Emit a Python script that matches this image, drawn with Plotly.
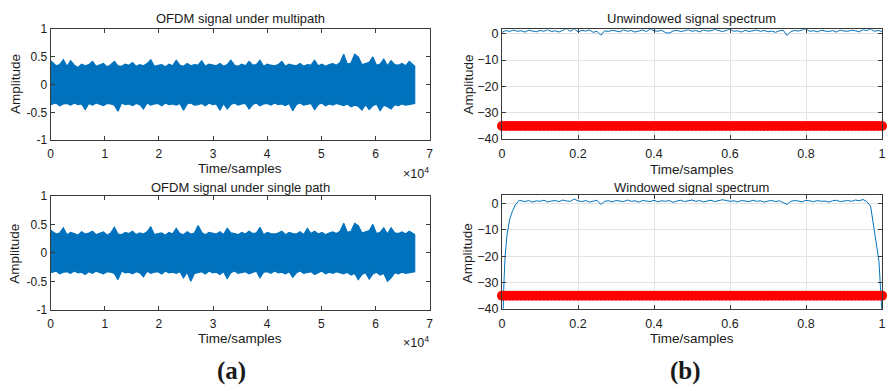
import numpy as np
import plotly.graph_objects as go

W, H = 889, 391

# ---------------- data ----------------
n_samples = 67250
# envelope of the OFDM signal under multipath (upper / lower peaks, 100 segments)
mp_upper = [0.43,0.34,0.36,0.45,0.33,0.43,0.35,0.31,0.37,0.34,
            0.36,0.42,0.33,0.35,0.38,0.32,0.36,0.42,0.34,0.33,
            0.37,0.35,0.40,0.33,0.36,0.34,0.38,0.45,0.33,0.35,
            0.36,0.32,0.37,0.34,0.44,0.35,0.33,0.38,0.34,0.36,
            0.35,0.43,0.33,0.37,0.35,0.34,0.38,0.33,0.36,0.44,
            0.35,0.33,0.37,0.34,0.42,0.35,0.36,0.44,0.33,0.37,
            0.35,0.34,0.36,0.42,0.33,0.37,0.35,0.34,0.38,0.33,
            0.36,0.35,0.44,0.34,0.37,0.33,0.36,0.38,0.35,0.40,
            0.55,0.37,0.39,0.55,0.50,0.36,0.38,0.40,0.50,0.35,
            0.37,0.46,0.34,0.43,0.36,0.35,0.38,0.34,0.42,0.33]
mp_lower = [-0.36,-0.33,-0.38,-0.35,-0.34,-0.37,-0.33,-0.36,-0.35,-0.45,
            -0.34,-0.37,-0.33,-0.36,-0.38,-0.34,-0.35,-0.37,-0.48,-0.33,
            -0.36,-0.35,-0.38,-0.34,-0.36,-0.44,-0.33,-0.37,-0.35,-0.34,
            -0.38,-0.33,-0.36,-0.35,-0.37,-0.34,-0.46,-0.35,-0.33,-0.37,
            -0.36,-0.34,-0.38,-0.33,-0.36,-0.35,-0.46,-0.34,-0.44,-0.36,
            -0.33,-0.37,-0.35,-0.34,-0.44,-0.36,-0.33,-0.38,-0.35,-0.34,
            -0.37,-0.33,-0.36,-0.35,-0.38,-0.34,-0.47,-0.36,-0.33,-0.37,
            -0.35,-0.34,-0.45,-0.36,-0.33,-0.38,-0.35,-0.37,-0.34,-0.36,
            -0.38,-0.35,-0.40,-0.37,-0.39,-0.46,-0.36,-0.45,-0.38,-0.35,
            -0.47,-0.37,-0.40,-0.44,-0.36,-0.38,-0.35,-0.37,-0.36,-0.34]
# envelope of the OFDM signal under single path
sp_upper = [0.40,0.33,0.35,0.44,0.32,0.36,0.34,0.31,0.37,0.33,
            0.35,0.38,0.32,0.34,0.37,0.31,0.35,0.45,0.33,0.32,
            0.36,0.34,0.38,0.32,0.35,0.33,0.37,0.46,0.32,0.34,
            0.35,0.31,0.36,0.33,0.43,0.34,0.32,0.37,0.33,0.35,
            0.48,0.36,0.32,0.36,0.34,0.33,0.37,0.32,0.43,0.35,
            0.34,0.32,0.36,0.33,0.38,0.34,0.35,0.45,0.32,0.36,
            0.34,0.33,0.35,0.38,0.32,0.36,0.34,0.33,0.37,0.32,
            0.43,0.34,0.38,0.33,0.36,0.32,0.35,0.37,0.34,0.38,
            0.52,0.36,0.38,0.52,0.48,0.35,0.37,0.39,0.50,0.34,
            0.36,0.44,0.33,0.44,0.35,0.34,0.37,0.33,0.38,0.32]
sp_lower = [-0.35,-0.32,-0.37,-0.34,-0.33,-0.36,-0.32,-0.35,-0.34,-0.38,
            -0.33,-0.36,-0.32,-0.35,-0.37,-0.33,-0.34,-0.36,-0.47,-0.32,
            -0.35,-0.34,-0.37,-0.33,-0.35,-0.42,-0.32,-0.36,-0.34,-0.33,
            -0.37,-0.32,-0.35,-0.34,-0.36,-0.33,-0.44,-0.34,-0.50,-0.36,
            -0.35,-0.33,-0.37,-0.32,-0.35,-0.34,-0.38,-0.33,-0.45,-0.35,
            -0.32,-0.36,-0.34,-0.33,-0.37,-0.35,-0.32,-0.44,-0.34,-0.33,
            -0.36,-0.32,-0.35,-0.34,-0.37,-0.33,-0.43,-0.35,-0.32,-0.36,
            -0.34,-0.33,-0.38,-0.35,-0.32,-0.37,-0.34,-0.36,-0.33,-0.35,
            -0.37,-0.34,-0.39,-0.36,-0.47,-0.38,-0.35,-0.46,-0.37,-0.34,
            -0.39,-0.36,-0.50,-0.44,-0.35,-0.37,-0.34,-0.36,-0.35,-0.33]

# unwindowed spectrum (dB)
unwin_db = [0.5,1.2,0.8,1.4,0.9,1.1,0.6,1.3,1.0,0.7,
            1.2,0.9,1.5,0.8,1.1,0.6,1.3,1.9,0.9,1.8,
            0.7,1.2,1.0,1.4,0.5,0.9,-0.6,1.1,0.8,1.3,
            1.0,0.7,1.5,0.9,1.2,0.6,1.0,1.4,0.8,1.7,
            1.1,0.9,1.3,0.4,0.2,1.0,1.3,0.8,1.1,1.5,
            0.9,1.2,0.7,1.4,1.0,1.1,1.6,1.3,0.8,1.2,
            1.7,0.9,1.1,0.6,1.3,0.8,1.0,1.4,0.9,1.2,
            0.7,1.0,0.5,1.1,1.3,-0.7,0.8,1.2,1.0,1.4,
            1.8,0.9,1.1,0.7,1.3,1.0,0.8,1.2,0.6,1.4,
            1.0,0.9,1.3,1.1,0.7,1.5,1.2,1.8,0.9,1.2,0.8]
# windowed spectrum (dB): x positions and values
win_x = [0.0,0.003,0.005,0.008,0.013,0.02,0.027,0.035,0.045,
         0.06,0.07,0.08,0.09,0.10,0.11,0.12,0.13,0.14,0.15,0.16,0.17,0.18,0.19,
         0.20,0.21,0.22,0.23,0.24,0.25,0.26,0.27,0.28,0.29,0.30,0.31,0.32,0.33,
         0.34,0.35,0.36,0.37,0.38,0.39,0.40,0.41,0.42,0.43,0.44,0.45,0.46,0.47,
         0.48,0.49,0.50,0.51,0.52,0.53,0.54,0.55,0.56,0.57,0.58,0.59,0.60,0.61,
         0.62,0.63,0.64,0.65,0.66,0.67,0.68,0.69,0.70,0.71,0.72,0.73,0.74,0.75,
         0.76,0.77,0.78,0.79,0.80,0.81,0.82,0.83,0.84,0.85,0.86,0.87,0.88,0.89,
         0.90,0.91,0.92,0.93,0.94,0.95,0.96,0.97,0.979,0.986,0.992,0.996,1.0]
win_db = [-42,-40,-30,-20,-12,-6,-3,-0.5,1.3,
          0.8,1.2,0.6,1.1,0.9,1.3,0.7,1.0,1.2,0.8,1.4,1.0,0.9,1.8,
          1.1,0.8,1.2,0.6,1.0,1.3,-0.3,0.9,1.1,0.7,1.2,1.0,0.8,1.4,
          0.9,1.1,0.6,1.2,1.0,0.8,1.3,0.7,1.1,0.9,1.2,0.5,1.0,1.3,
          0.8,1.1,1.4,0.9,1.2,0.7,1.0,1.3,0.8,1.1,1.5,1.2,0.9,1.1,
          0.7,1.2,1.0,0.8,1.3,0.9,1.1,0.6,1.0,1.2,0.8,1.1,0.4,-0.3,
          0.9,1.2,1.0,0.7,1.3,1.1,0.8,1.2,0.9,1.0,0.6,1.1,1.3,0.8,
          1.0,1.2,0.9,1.4,1.1,1.6,0.8,-1.0,-9.5,-16,-22,-32,-42]
# red reference level (dB)
ref_x = [round(0.01 * k, 2) for k in range(101)]
ref_level = [-35.0] * len(ref_x)

left_xticks = [0, 10000, 20000, 30000, 40000, 50000, 60000, 70000]
left_xlabels = ["0", "1", "2", "3", "4", "5", "6", "7"]
left_yticks = [-1, -0.5, 0, 0.5, 1]
left_ylabels = ["-1", "-0.5", "0", "0.5", "1"]
right_xticks = [0, 0.2, 0.4, 0.6, 0.8, 1]
right_xlabels = ["0", "0.2", "0.4", "0.6", "0.8", "1"]
right_yticks = [-40, -30, -20, -10, 0]

BLUE = "#0072BD"
RED = "#FF0000"
FONT = "Liberation Sans, Arial, Helvetica, sans-serif"
AXC = "#3a3a3a"


def px(x):
    return x / W


def py(y):
    return 1 - y / H


def band(upper, lower):
    n = len(upper)
    xs = [(i + 0.5) / n * n_samples for i in range(n)]
    xs[0] = 0
    xs[-1] = n_samples
    return xs + xs[::-1] + [xs[0]], list(upper) + list(lower)[::-1] + [upper[0]]


fig = go.Figure()

x1, y1 = band(mp_upper, mp_lower)
fig.add_trace(go.Scatter(x=x1, y=y1, mode="lines", fill="toself", fillcolor=BLUE,
                         line=dict(color=BLUE, width=1.2),
                         xaxis="x", yaxis="y", showlegend=False, hoverinfo="skip"))
x2, y2 = band(sp_upper, sp_lower)
fig.add_trace(go.Scatter(x=x2, y=y2, mode="lines", fill="toself", fillcolor=BLUE,
                         line=dict(color=BLUE, width=1.2),
                         xaxis="x2", yaxis="y2", showlegend=False, hoverinfo="skip"))

ux = list(np.linspace(0, 1, len(unwin_db)))
fig.add_trace(go.Scatter(x=ux, y=unwin_db, mode="lines", line=dict(color=BLUE, width=1),
                         xaxis="x3", yaxis="y3", showlegend=False))
fig.add_trace(go.Scatter(x=ref_x, y=ref_level, mode="lines+markers",
                         line=dict(color=RED, width=8), marker=dict(color=RED, size=10),
                         xaxis="x3", yaxis="y3", showlegend=False, cliponaxis=False))
fig.add_trace(go.Scatter(x=win_x, y=win_db, mode="lines", line=dict(color=BLUE, width=1),
                         xaxis="x4", yaxis="y4", showlegend=False))
fig.add_trace(go.Scatter(x=ref_x, y=ref_level, mode="lines+markers",
                         line=dict(color=RED, width=8), marker=dict(color=RED, size=10),
                         xaxis="x4", yaxis="y4", showlegend=False, cliponaxis=False))

common = dict(showline=True, linecolor=AXC, linewidth=1, mirror="ticks", ticks="inside",
              ticklen=4, tickcolor=AXC, zeroline=False,
              tickfont=dict(family=FONT, size=12, color="#1a1a1a"))

L = [px(48), px(430)]
R = [px(503), px(886)]

lay = dict(
    width=W, height=H, margin=dict(l=0, r=0, t=0, b=0),
    paper_bgcolor="white", plot_bgcolor="white", showlegend=False,
    xaxis=dict(domain=L, anchor="y", range=[0, 70000], tickvals=left_xticks,
               ticktext=left_xlabels, showgrid=False, ticklabelstandoff=3, **common),
    yaxis=dict(domain=[py(138), py(23)], anchor="x", range=[-1, 1], tickvals=left_yticks,
               ticktext=left_ylabels, showgrid=False, **common),
    xaxis2=dict(domain=L, anchor="y2", range=[0, 70000], tickvals=left_xticks,
                ticktext=left_xlabels, showgrid=False, ticklabelstandoff=3, **common),
    yaxis2=dict(domain=[py(314), py(196)], anchor="x2", range=[-1, 1], tickvals=left_yticks,
                ticktext=left_ylabels, showgrid=False, **common),
)
rcommon = dict(common)
rcommon["tickfont"] = dict(family=FONT, size=12.5, color="#1a1a1a")
lay.update(
    xaxis3=dict(domain=R, anchor="y3", range=[0, 1], tickvals=right_xticks, ticktext=right_xlabels,
                showgrid=True, gridcolor="#e3e3e3", ticklabelstandoff=3, **rcommon),
    yaxis3=dict(domain=[py(137), py(23)], anchor="x3", range=[-40, 1.7], tickvals=right_yticks,
                showgrid=True, gridcolor="#e3e3e3", **rcommon),
    xaxis4=dict(domain=R, anchor="y4", range=[0, 1], tickvals=right_xticks, ticktext=right_xlabels,
                showgrid=True, gridcolor="#e3e3e3", ticklabelstandoff=3, **rcommon),
    yaxis4=dict(domain=[py(313), py(195)], anchor="x4", range=[-40, 3.3], tickvals=right_yticks,
                showgrid=True, gridcolor="#e3e3e3", **rcommon),
)
fig.update_layout(**lay)

ann = []


def text(x, y, s, size=13, angle=0, family=FONT, xanchor="center"):
    ann.append(dict(x=px(x), y=py(y), xref="paper", yref="paper", text=s, showarrow=False,
                    xanchor=xanchor, yanchor="middle", textangle=angle,
                    font=dict(family=family, size=size, color="#1a1a1a")))


text(239, 12, "OFDM signal under multipath")
text(239, 187, "OFDM signal under single path")
text(694, 12, "Unwindowed signal spectrum")
text(694, 187, "Windowed signal spectrum")
text(239, 168, "Time/samples", size=13.5)
text(239, 344, "Time/samples", size=13.5)
text(694, 169, "Time/samples", size=13.5)
text(694, 344, "Time/samples", size=13.5)
text(12, 80, "Amplitude", angle=-90, size=13.5)
text(12, 256, "Amplitude", angle=-90, size=13.5)
text(469, 80, "Amplitude", angle=-90, size=13.5)
text(469, 255, "Amplitude", angle=-90, size=13.5)
text(431, 172, "×10<sup>4</sup>", size=12.5, xanchor="right")
text(431, 347, "×10<sup>4</sup>", size=12.5, xanchor="right")
text(230, 377, "<b>(a)</b>", size=25, family="Liberation Serif, Times New Roman, serif")
text(688, 377, "<b>(b)</b>", size=25, family="Liberation Serif, Times New Roman, serif")
fig.update_layout(annotations=ann)

fig.write_html("out.html")
